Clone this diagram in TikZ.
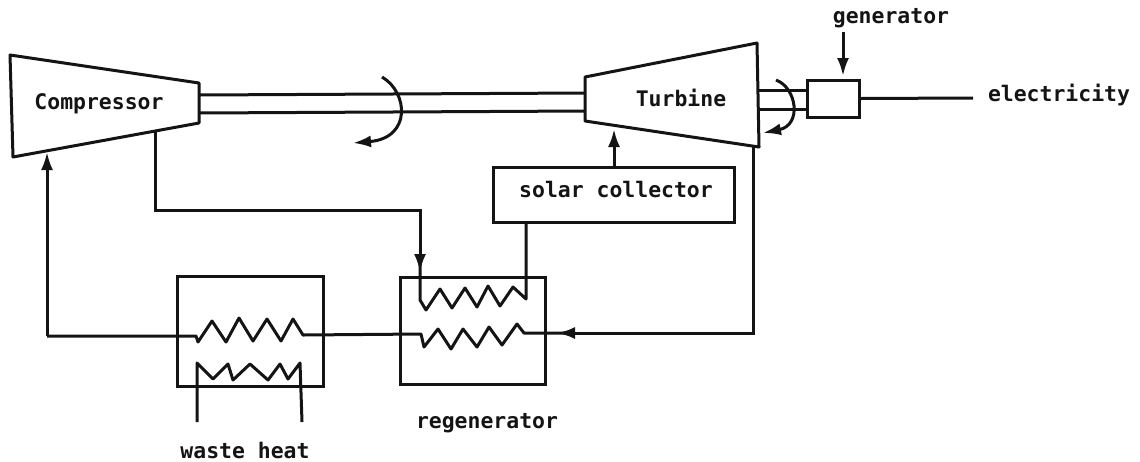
\documentclass[tikz,border=0pt]{standalone}
\usepackage{fontspec}
\setmainfont{DejaVu Sans Mono}
\usepackage{tikz}
\usetikzlibrary{arrows.meta,positioning}
\definecolor{ink}{HTML}{141414}
\tikzset{
  wire/.style={line width=.3mm,ink},
  unitbox/.style={draw=ink,line width=.3mm,inner sep=0pt},
  tag/.style={font=\fontsize{6.1}{7}\selectfont\bfseries,text=ink,inner sep=0pt},
}

\begin{document}
\begin{tikzpicture}[>={Latex[length=1.8mm,width=1.2mm]},x=.1mm,y=-.1mm]
  \useasboundingbox (0,0) rectangle (1140,461);
  % machines
  \draw[wire,line join=round] (10,55)--(199,83)--(199,123)--(13,157)--cycle;
  \draw[wire,line join=round] (585,77)--(757,43)--(759,147)--(585,121)--cycle;
  \node[tag] (compressor) at (99,104) {Compressor};
  \node[tag] (turbine) at (681,98) {Turbine};
  \node[unitbox,minimum width=5.2mm,minimum height=3.7mm] (generator) at (833,98.5) {};
  \node[unitbox,minimum width=24.1mm,minimum height=5.5mm] (solar) at (613.5,194.5) {};
  \node[tag] at (616,190) {solar collector};
  \node[unitbox,minimum width=14.5mm,minimum height=10.7mm] (regen) at (472.5,330.5) {};
  \node[unitbox,minimum width=14.6mm,minimum height=11mm] (waste) at (250,331) {};
  % labels
  \node[tag] (gentag) at (891,18) {generator};
  \node[tag] (elec) at (1059,95) {electricity};
  \node[tag] (regentag) at (487,423) {regenerator};
  \node[tag] (wastetag) at (245,450) {waste heat};
  % shafts
  \draw[wire] (199,95)--(585,93) (199,113)--(585,111);
  \draw[wire] (759,90)--(generator.west |- 0,90) (759,109)--(generator.west |- 0,109);
  \draw[wire] (generator.east)--(973,98);
  \draw[wire,->] (843,32)--(843,76);
  % rotation
  \draw[wire,->] (382,77) .. controls (408,92) and (412,138) .. (353,143);
  \draw[wire,->] (776,80) .. controls (797,88) and (802,125) .. (763,133);
  % pipes
  \coordinate (compin) at (47,152);
  \coordinate (compout) at (155,132);
  \coordinate (turbin) at (614,129);
  \coordinate (turbout) at (753,147);
  \draw[wire,->] (47,336)--(compin);
  \draw[wire,->] (compout)|-(420,210)--(420,272);
  \draw[wire,->] (solar.north -| turbin)--(turbin);
  \draw[wire,->] (turbout)|-(557,333);
  % coils
  \draw[wire,line join=round] (420,255)--(420,300)--(426,310)--(440,289)--(452,308)--(465,288)--(477,307)--(488,286)--(500,306)--(513,287)--(526,299)--(solar.south -| 526,0);
  \draw[wire,line join=round] (47,336)--(196,336)--(198,342)--(212,321)--(226,342)--(239,318)--(253,341)--(267,319)--(281,341)--(293,319)--(303,335)--(421,334)--(424,347)--(438,329)--(451,349)--(463,329)--(477,347)--(489,327)--(502,345)--(517,324)--(524,333)--(575,333);
  \draw[wire,line join=round] (197,422)--(197,363)--(213,379)--(228,364)--(233,380)--(250,364)--(268,380)--(280,364)--(288,379)--(300,363)--(302,422);
\end{tikzpicture}
\end{document}
